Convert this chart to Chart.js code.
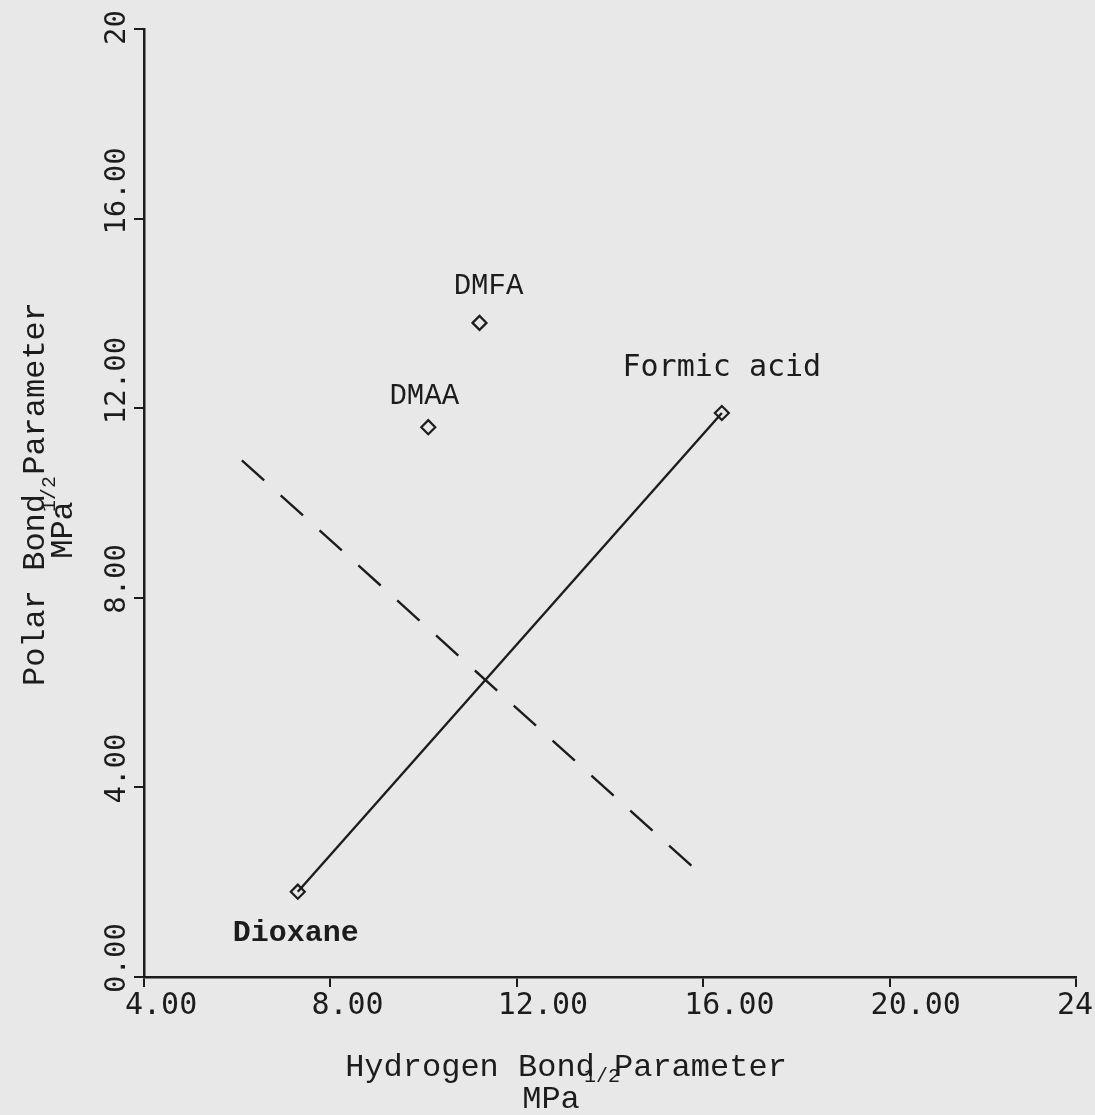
<!DOCTYPE html>
<html>
<head>
<meta charset="utf-8">
<script src="https://cdn.jsdelivr.net/npm/chart.js@4.4.1/dist/chart.umd.min.js"></script>
<style>
  html, body { margin: 0; padding: 0; background: #e8e8e8; }
</style>
</head>
<body>
<canvas id="myChart" width="1095" height="1115"></canvas>
<script>
// solvents: hydrogen bond (x) and polar bond (y) parameters, MPa^1/2
var solventNames = ['Dioxane', 'DMAA', 'DMFA', 'Formic acid'];
var hydrogenBond = [7.3, 10.1, 11.2, 16.4];
var polarBond = [1.8, 11.6, 13.8, 11.9];

// dashed line end points
var dashedX = [6.1, 15.8];
var dashedY = [10.9, 2.3];

var xTickLabels = ['4.00', '8.00', '12.00', '16.00', '20.00', '24'];
var yTickLabels = ['0.00', '4.00', '8.00', '12.00', '16.00', '20'];

function pt(i) {
    return { x: hydrogenBond[i], y: polarBond[i] };
}

var ink = '#1c1c1c';

var annotate = {
    id: 'annotate',
    afterDraw: function (c) {
        var ctx = c.ctx, xs = c.scales.x, ys = c.scales.y;
        ctx.save();
        ctx.fillStyle = ink;

        // y tick labels, rotated
        ctx.font = '29px "DejaVu Sans Mono"';
        ctx.textAlign = 'left';
        ctx.textBaseline = 'middle';
        ys.ticks.forEach(function (tk, i) {
            var py = ys.getPixelForValue(tk.value);
            ctx.save();
            ctx.translate(117, py + 16);
            ctx.rotate(-Math.PI / 2);
            ctx.fillText(yTickLabels[i], 0, 0);
            ctx.restore();
        });

        // point names
        var offs = [[-2, 42, 'bold 30px "Liberation Mono"'],
                    [-4, -31, '29px "Liberation Mono"'],
                    [9, -37, '29px "Liberation Mono"'],
                    [0, -45, '30px "DejaVu Sans Mono"']];
        ctx.textAlign = 'center';
        solventNames.forEach(function (name, i) {
            var px = xs.getPixelForValue(hydrogenBond[i]);
            var py = ys.getPixelForValue(polarBond[i]);
            ctx.font = offs[i][2];
            ctx.fillText(name, px + offs[i][0], py + offs[i][1]);
        });

        // x title
        ctx.font = '32px "Liberation Mono"';
        ctx.fillText('Hydrogen Bond Parameter', 566, 1068);
        ctx.fillText('MPa', 551, 1100);
        ctx.font = '20px "Liberation Mono"';
        ctx.textAlign = 'left';
        ctx.fillText('1/2', 584, 1077);

        // y title
        ctx.save();
        ctx.translate(36, 494);
        ctx.rotate(-Math.PI / 2);
        ctx.textAlign = 'center';
        ctx.font = '32px "Liberation Mono"';
        ctx.fillText('Polar Bond Parameter', 0, 0);
        ctx.restore();

        ctx.save();
        ctx.translate(64, 530);
        ctx.rotate(-Math.PI / 2);
        ctx.textAlign = 'center';
        ctx.font = '32px "Liberation Mono"';
        ctx.fillText('MPa', 0, 0);
        ctx.restore();

        ctx.save();
        ctx.translate(50, 512);
        ctx.rotate(-Math.PI / 2);
        ctx.textAlign = 'left';
        ctx.font = '20px "Liberation Mono"';
        ctx.fillText('1/2', 0, 0);
        ctx.restore();

        ctx.restore();
    }
};

var chart = new Chart(document.getElementById('myChart'), {
    type: 'scatter',
    data: {
        datasets: [
            {
                label: 'line',
                data: [pt(0), pt(3)],
                showLine: true,
                borderColor: ink,
                borderWidth: 2.4,
                pointStyle: 'rectRot',
                pointRadius: 7,
                pointBorderWidth: 2.2,
                pointBorderColor: ink,
                pointBackgroundColor: 'rgba(0,0,0,0)'
            },
            {
                label: 'amides',
                data: [pt(1), pt(2)],
                showLine: false,
                pointStyle: 'rectRot',
                pointRadius: 7,
                pointBorderWidth: 2.2,
                pointBorderColor: ink,
                pointBackgroundColor: 'rgba(0,0,0,0)'
            },
            {
                label: 'dashed',
                data: [{ x: dashedX[0], y: dashedY[0] }, { x: dashedX[1], y: dashedY[1] }],
                showLine: true,
                borderColor: ink,
                borderWidth: 2.4,
                borderDash: [30, 22.3],
                pointRadius: 0
            }
        ]
    },
    options: {
        responsive: false,
        animation: false,
        layout: { padding: { top: 29, right: 19, left: 0, bottom: 0 } },
        plugins: {
            legend: { display: false },
            tooltip: { enabled: false }
        },
        scales: {
            x: {
                type: 'linear',
                min: 4,
                max: 24,
                border: { display: true, color: ink, width: 2.5 },
                grid: { drawOnChartArea: false, drawTicks: true, tickLength: 10, color: ink, lineWidth: 2 },
                ticks: {
                    stepSize: 4,
                    color: ink,
                    align: 'start',
                    labelOffset: -19,
                    padding: 1,
                    maxRotation: 0,
                    font: { family: '"DejaVu Sans Mono"', size: 30 },
                    callback: function (v, i) { return xTickLabels[i]; }
                },
                afterFit: function (s) {
                    s.height = 138;
                    s.paddingLeft = 0;
                    s.paddingRight = 0;
                }
            },
            y: {
                type: 'linear',
                min: 0,
                max: 20,
                border: { display: true, color: ink, width: 2.5 },
                grid: { drawOnChartArea: false, drawTicks: true, tickLength: 10, color: ink, lineWidth: 2 },
                ticks: {
                    stepSize: 4,
                    display: false,
                    callback: function (v, i) { return yTickLabels[i]; }
                },
                afterFit: function (s) {
                    s.width = 144;
                    s.paddingTop = 0;
                    s.paddingBottom = 0;
                }
            }
        }
    },
    plugins: [annotate]
});
</script>
</body>
</html>
